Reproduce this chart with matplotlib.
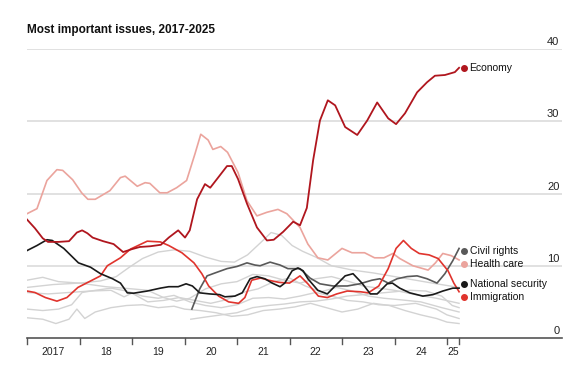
import matplotlib
matplotlib.use("Agg")
import matplotlib.pyplot as plt
from matplotlib import font_manager

# pick a narrow font if there is one
names = {f.name for f in font_manager.fontManager.ttflist}
FONT = "Liberation Sans Narrow" if "Liberation Sans Narrow" in names else "Liberation Sans"
plt.rcParams['font.family'] = [FONT, 'DejaVu Sans']

# ---- data (share of respondents, %) ----
econ_x = [2017.00, 2017.15, 2017.30, 2017.40, 2017.60, 2017.80, 2017.95, 2018.05, 2018.15, 2018.25,
          2018.45, 2018.65, 2018.83, 2019.00, 2019.15, 2019.35, 2019.55, 2019.70, 2019.88, 2020.01,
          2020.10, 2020.24, 2020.39, 2020.49, 2020.64, 2020.81, 2020.90, 2021.02, 2021.19, 2021.38,
          2021.57, 2021.70, 2021.88, 2022.07, 2022.20, 2022.33, 2022.45, 2022.58, 2022.73, 2022.87,
          2023.06, 2023.29, 2023.48, 2023.67, 2023.88, 2024.03, 2024.20, 2024.43, 2024.62, 2024.77,
          2024.96, 2025.15, 2025.23]
econ_y = [16.4, 15.2, 13.8, 13.3, 13.3, 13.4, 14.6, 14.9, 14.5, 13.9,
          13.4, 13.0, 11.9, 12.3, 12.6, 12.7, 12.9, 13.9, 14.9, 13.9,
          14.9, 19.2, 21.3, 20.8, 22.2, 23.8, 23.8, 22.0, 18.6, 15.3,
          13.5, 13.6, 14.7, 16.1, 15.6, 18.0, 24.6, 30.1, 32.9, 32.2,
          29.2, 28.1, 30.1, 32.6, 30.4, 29.6, 31.1, 34.0, 35.4, 36.3,
          36.4, 36.8, 37.4]

health_x = [2017.00, 2017.19, 2017.38, 2017.57, 2017.68, 2017.87, 2018.04, 2018.16, 2018.30, 2018.58,
            2018.78, 2018.87, 2019.10, 2019.25, 2019.34, 2019.53, 2019.67, 2019.85, 2020.04, 2020.20,
            2020.31, 2020.45, 2020.54, 2020.69, 2020.82, 2021.02, 2021.19, 2021.38, 2021.57, 2021.78,
            2021.95, 2022.20, 2022.35, 2022.54, 2022.73, 2023.00, 2023.19, 2023.43, 2023.62, 2023.80,
            2023.97, 2024.10, 2024.35, 2024.64, 2024.78, 2024.92, 2025.08, 2025.23]
health_y = [17.2, 17.9, 21.8, 23.3, 23.2, 21.9, 20.1, 19.2, 19.2, 20.4,
            22.2, 22.4, 21.0, 21.5, 21.4, 20.1, 20.1, 20.8, 21.8, 25.5,
            28.2, 27.4, 26.1, 26.5, 25.7, 22.9, 19.0, 16.9, 17.4, 17.8,
            17.2, 15.3, 13.0, 11.1, 10.8, 12.4, 11.8, 11.8, 11.1, 11.1,
            11.7, 11.0, 10.0, 9.4, 10.4, 11.7, 11.4, 10.8]

immig_x = [2017.00, 2017.15, 2017.35, 2017.57, 2017.76, 2017.97, 2018.24, 2018.40, 2018.53, 2018.78,
           2018.97, 2019.29, 2019.54, 2019.70, 2019.95, 2020.18, 2020.33, 2020.46, 2020.65, 2020.84,
           2021.03, 2021.15, 2021.28, 2021.45, 2021.60, 2021.80, 2022.00, 2022.20, 2022.35, 2022.55,
           2022.72, 2022.90, 2023.10, 2023.35, 2023.50, 2023.70, 2023.88, 2024.03, 2024.17, 2024.32,
           2024.47, 2024.66, 2024.83, 2025.02, 2025.13, 2025.23]
immig_y = [6.5, 6.3, 5.6, 5.1, 5.6, 7.0, 8.0, 8.6, 10.0, 11.1,
           12.3, 13.4, 13.3, 12.8, 11.8, 10.4, 8.9, 7.2, 5.8, 5.0,
           4.8, 5.6, 8.0, 8.3, 8.0, 7.7, 7.6, 8.6, 7.5, 5.8,
           5.6, 6.1, 6.5, 6.4, 6.25, 7.2, 9.6, 12.4, 13.5, 12.4,
           11.7, 11.5, 11.0, 9.3, 7.6, 6.4]

natsec_x = [2017.00, 2017.19, 2017.38, 2017.48, 2017.70, 2017.98, 2018.21, 2018.40, 2018.63, 2018.78,
            2018.91, 2019.03, 2019.29, 2019.54, 2019.70, 2019.88, 2020.03, 2020.15, 2020.29, 2020.48,
            2020.67, 2020.77, 2020.96, 2021.10, 2021.25, 2021.38, 2021.53, 2021.67, 2021.82, 2021.91,
            2022.05, 2022.16, 2022.26, 2022.35, 2022.54, 2022.72, 2022.91, 2023.06, 2023.21, 2023.38,
            2023.54, 2023.67, 2023.86, 2023.96, 2024.10, 2024.29, 2024.54, 2024.73, 2024.92, 2025.11,
            2025.23]
natsec_y = [12.1, 12.8, 13.6, 13.5, 12.4, 10.4, 9.8, 8.9, 8.2, 7.6,
            6.25, 6.2, 6.5, 6.9, 7.1, 7.1, 7.5, 7.2, 6.25, 6.1,
            6.0, 5.7, 5.8, 6.25, 8.2, 8.5, 8.2, 7.6, 7.1, 7.6,
            9.3, 9.7, 9.3, 8.2, 6.6, 6.1, 7.5, 8.6, 8.9, 7.6,
            6.1, 6.1, 7.5, 7.6, 6.9, 6.25, 5.8, 6.0, 6.5, 6.9,
            6.9]

civil_x = [2020.14, 2020.29, 2020.43, 2020.58, 2020.81, 2021.00, 2021.19, 2021.34, 2021.44, 2021.63,
           2021.82, 2021.97, 2022.20, 2022.39, 2022.58, 2022.83, 2023.10, 2023.34, 2023.57, 2023.72,
           2023.88, 2024.05, 2024.24, 2024.43, 2024.62, 2024.81, 2024.96, 2025.11, 2025.23]
civil_y = [4.0, 6.8, 8.6, 9.0, 9.6, 9.9, 10.4, 10.1, 10.0, 10.5,
           10.1, 9.6, 9.6, 8.3, 7.5, 7.2, 7.2, 7.5, 8.0, 8.2,
           7.6, 8.2, 8.5, 8.6, 8.2, 7.6, 8.9, 10.7, 12.4]

# other issues, unlabelled (grey)
grey_a_x = [2017.0, 2017.5, 2018.0, 2018.4, 2018.7, 2018.95, 2019.2, 2019.5, 2019.8, 2020.1, 2020.4,
            2020.7, 2020.95, 2021.2, 2021.45, 2021.65, 2021.85, 2022.05, 2022.25, 2022.5, 2022.8,
            2023.2, 2023.6, 2024.0, 2024.4, 2024.8, 2025.23]
grey_a_y = [7.0, 7.4, 7.6, 7.9, 8.5, 9.8, 11.0, 11.9, 12.2, 12.0, 11.2,
            10.6, 10.5, 11.5, 13.2, 14.6, 14.2, 12.8, 12.0, 11.2, 10.0,
            9.4, 9.0, 8.5, 8.0, 7.5, 7.0]
grey_b_x = [2017.0, 2017.3, 2017.6, 2018.0, 2018.5, 2019.0, 2019.3, 2019.6, 2019.85, 2020.1, 2020.4,
            2020.7, 2021.0, 2021.3, 2021.6, 2021.9, 2022.2, 2022.5, 2022.8, 2023.1, 2023.4,
            2023.7, 2024.0, 2024.4, 2024.8, 2025.23]
grey_b_y = [8.0, 8.4, 7.8, 7.6, 7.1, 6.8, 6.6, 5.6, 5.1, 5.5, 6.8,
            7.5, 7.8, 8.8, 8.6, 8.0, 7.6, 8.2, 8.5, 7.9, 7.2,
            6.9, 6.6, 6.0, 5.5, 4.8]
grey_c_x = [2017.0, 2017.4, 2017.8, 2018.2, 2018.6, 2018.85, 2019.0, 2019.3, 2019.6, 2019.9, 2020.2,
            2020.5, 2020.8, 2021.1, 2021.4, 2021.7, 2022.0, 2022.3, 2022.6, 2022.9, 2023.2,
            2023.5, 2023.8, 2024.1, 2024.5, 2024.9, 2025.23]
grey_c_y = [6.3, 6.1, 6.3, 6.5, 6.6, 5.7, 6.2, 5.0, 5.2, 5.6, 5.2,
            4.8, 5.3, 6.3, 6.8, 7.8, 8.3, 7.2, 6.4, 7.0, 6.5,
            5.8, 5.5, 5.3, 5.0, 4.2, 3.6]
grey_d_x = [2017.0, 2017.3, 2017.6, 2017.85, 2018.05, 2018.3, 2018.6, 2018.9, 2019.2, 2019.5, 2019.8,
            2020.1, 2020.4, 2020.7, 2021.0, 2021.3, 2021.6, 2021.9, 2022.2, 2022.5, 2022.8,
            2023.1, 2023.4, 2023.7, 2024.0, 2024.4, 2024.8, 2025.0, 2025.23]
grey_d_y = [4.0, 3.8, 4.0, 4.6, 6.3, 6.6, 6.9, 6.5, 5.8, 5.5, 5.9,
            5.0, 4.5, 4.2, 4.6, 5.5, 5.6, 5.4, 5.8, 6.3, 5.8,
            5.2, 5.0, 4.6, 4.5, 4.8, 4.0, 3.2, 2.7]
grey_e_x = [2017.0, 2017.3, 2017.55, 2017.8, 2017.95, 2018.1, 2018.3, 2018.6, 2018.9, 2019.2, 2019.5,
            2019.8, 2020.0, 2020.3, 2020.6, 2020.9, 2021.2, 2021.5, 2021.8, 2022.1, 2022.4,
            2022.7, 2023.0, 2023.3, 2023.6, 2023.9, 2024.2, 2024.5, 2024.8, 2025.0, 2025.23]
grey_e_y = [2.8, 2.6, 2.0, 2.6, 4.0, 2.7, 3.6, 4.2, 4.5, 4.6, 4.2,
            4.4, 4.0, 3.8, 3.5, 3.0, 3.2, 3.8, 4.0, 4.3, 4.8,
            4.2, 3.6, 4.0, 4.8, 4.5, 3.8, 3.2, 2.7, 2.2, 2.0]
grey_f_x = [2020.12, 2020.4, 2020.7, 2021.0, 2021.3, 2021.6, 2021.9, 2022.2, 2022.5, 2022.8, 2023.1,
            2023.4, 2023.7, 2024.0, 2024.3, 2024.6, 2024.9, 2025.1, 2025.23]
grey_f_y = [2.6, 2.9, 3.2, 3.5, 4.2, 4.5, 4.7, 5.0, 5.1, 5.4, 5.8,
            6.0, 6.2, 6.4, 6.6, 6.5, 5.8, 4.5, 4.2]

year_starts = [2017, 2018, 2019, 2020, 2021, 2022, 2023, 2024, 2025]
year_labels = ["2017", "18", "19", "20", "21", "22", "23", "24", "25"]
data_end = 2025.23

labels = ["Economy", "Civil rights", "Health care", "National security", "Immigration"]
label_colors = ["#b0161e", "#595959", "#eba49d", "#1a1a1a", "#e0342d"]
label_y = [37.4, 12.0, 10.3, 7.5, 5.7]

# ---- figure ----
fig = plt.figure(figsize=(5.84, 3.8), dpi=100)
ax = fig.add_axes([27 / 584, 42 / 380, 535 / 584, 289 / 380])
ax.set_xlim(2017, 2017 + 535 / 52.5)
ax.set_ylim(0, 40)
for s in ax.spines.values():
    s.set_visible(False)
ax.set_xticks([])
ax.set_yticks([])

# gridlines + right-side labels
for v in [10, 20, 30, 40]:
    ax.axhline(v, color="#d9d9d9", lw=1.1, zorder=0)
for v in [0, 10, 20, 30, 40]:
    ax.text(0.995, v + 0.25, str(v), transform=ax.get_yaxis_transform(), ha="right", va="bottom",
            fontsize=8, color="#222222")
ax.axhline(0, color="#555555", lw=1.2, zorder=5, clip_on=False)

# year ticks below the baseline
for x in year_starts + [data_end]:
    ax.plot([x, x], [0, -0.85], color="#555555", lw=1.0, clip_on=False)
mids = [x + 0.5 for x in year_starts[:-1]] + [(year_starts[-1] + data_end) / 2]
for x, lab in zip(mids, year_labels):
    ax.text(x, -2.0, lab, ha="center", va="center", fontsize=7.5, color="#222222")

greys = [(grey_a_x, grey_a_y), (grey_b_x, grey_b_y), (grey_c_x, grey_c_y),
         (grey_d_x, grey_d_y), (grey_e_x, grey_e_y), (grey_f_x, grey_f_y)]
for gx, gy in greys:
    ax.plot(gx, gy, color="#d3d3d3", lw=1.0, zorder=1, solid_joinstyle="round")

ax.plot(health_x, health_y, color=label_colors[2], lw=1.2, zorder=2, solid_joinstyle="round")
ax.plot(civil_x, civil_y, color=label_colors[1], lw=1.2, zorder=3, solid_joinstyle="round")
ax.plot(immig_x, immig_y, color=label_colors[4], lw=1.2, zorder=3, solid_joinstyle="round")
ax.plot(natsec_x, natsec_y, color=label_colors[3], lw=1.2, zorder=4, solid_joinstyle="round")
ax.plot(econ_x, econ_y, color=label_colors[0], lw=1.3, zorder=4, solid_joinstyle="round")

# end labels
for lab, c, y in zip(labels, label_colors, label_y):
    ax.plot([data_end + 0.1], [y], "o", color=c, ms=4, clip_on=False, zorder=6)
    ax.text(data_end + 0.2, y, lab, ha="left", va="center", fontsize=7.5, color="#111111")

fig.text(27 / 584, 1 - 30 / 380, "Most important issues, 2017-2025", ha="left", va="center",
         fontsize=8.5, fontweight="bold", color="#111111")

fig.savefig("out.png", dpi=100, facecolor="white")
